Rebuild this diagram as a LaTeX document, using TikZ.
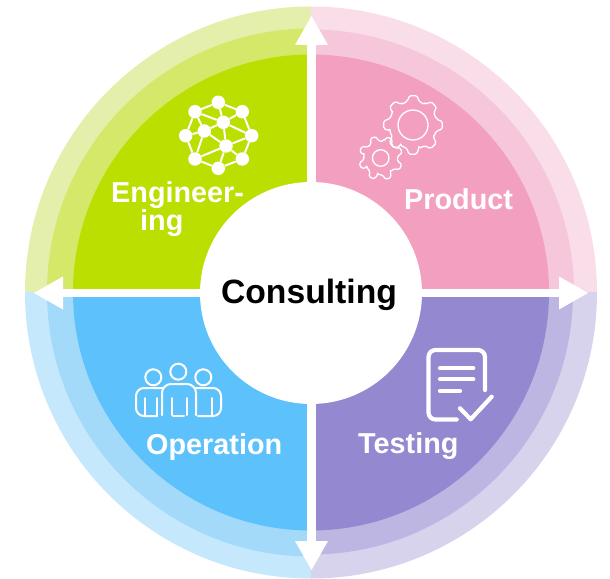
\documentclass[tikz,border=0pt]{standalone}
\usepackage{fontspec}
\setmainfont{Liberation Sans}
\usetikzlibrary{arrows.meta,calc}
\definecolor{gA}{HTML}{BADF00}\definecolor{gB}{HTML}{D5E86A}\definecolor{gC}{HTML}{E3EFAA}
\definecolor{pA}{HTML}{F3A0C0}\definecolor{pB}{HTML}{F6C6DA}\definecolor{pC}{HTML}{F9DDE9}
\definecolor{bA}{HTML}{5DC2FB}\definecolor{bB}{HTML}{A3DAFA}\definecolor{bC}{HTML}{C6E8FC}
\definecolor{vA}{HTML}{9488D0}\definecolor{vB}{HTML}{BEB6E2}\definecolor{vC}{HTML}{D8D3EC}
\tikzset{
  label text/.style={anchor=base west,inner sep=0pt,text=white,font=\fontsize{28.8bp}{28.8bp}\selectfont\bfseries},
  flow arrow/.style={draw=white,line width=8.5bp,-{Triangle[length=29bp,width=33bp,line width=0pt]}},
  icon line/.style={draw=white,line width=2bp,line cap=round,line join=round},
  gear line/.style={draw=white,line width=1.3bp,line cap=round,line join=round,rounded corners=1.5bp},
  net line/.style={draw=white,line width=2bp},
  net dot/.style={circle,fill=white,inner sep=0pt,minimum size=13.5bp},
}
\newcommand{\quadrant}[5]{%
  \begin{scope}
    \clip (c) rectangle #1;
    \fill[#2] (c) circle[radius=286];
    \fill[#3] (c) circle[radius=#5];
    \fill[#4] (c) circle[radius=238];
  \end{scope}}
\newcommand{\gearpath}[6]{%
  \draw[#6] ($(#1,#2)+(#5:#4)$) \foreach \t in {0,45,...,315} {
     -- ($(#1,#2)+(#5+\t+0:#4)$)
     -- ($(#1,#2)+(#5+\t+7:#3)$)
     -- ($(#1,#2)+(#5+\t+22:#3)$)
     -- ($(#1,#2)+(#5+\t+29:#4)$)
     -- ($(#1,#2)+(#5+\t+45:#4)$)
  } -- cycle;}
\begin{document}
\begin{tikzpicture}[x=1bp,y=-1bp]
\useasboundingbox (0,0) rectangle (610,579);
\fill[white] (0,0) rectangle (610,579);
\coordinate (c) at (311,292.5);
\quadrant{(0,0)}{gC}{gB}{gA}{264}
\quadrant{(610,0)}{pC}{pB}{pA}{263}
\quadrant{(0,579)}{bC}{bB}{bA}{264}
\quadrant{(610,579)}{vC}{vB}{vA}{262}
% arrows
\coordinate (mid) at (311.5,293);
\coordinate (tipN) at (311.5,16);
\coordinate (tipE) at (588,293);
\coordinate (tipS) at (311.5,570);
\coordinate (tipW) at (34,293);
\draw[flow arrow] (mid) -- (tipN);
\draw[flow arrow] (mid) -- (tipE);
\draw[flow arrow] (mid) -- (tipS);
\draw[flow arrow] (mid) -- (tipW);
% centre
\node[circle,fill=white,inner sep=0pt,minimum size=222bp] (hub) at (311,293) {};
\node[anchor=base,inner sep=0pt,font=\fontsize{33.7bp}{33.7bp}\selectfont\bfseries] (consulting) at (309,303) {Consulting};
% labels
\node[label text] (eng) at (111,202) {Engineer-};
\node[label text] (ing) at (140,230) {ing};
\node[label text] (product) at (404,209.5) {Product};
\node[label text] (operation) at (146,454) {Operation};
\node[label text] (testing) at (358,453.5) {Testing};
% network icon
\foreach \n/\x/\y in {a/218.3/102.3,b/195/111.7,d/242.3/111.7,e/223.3/122.3,f/204.3/131,g/185.7/135.7,h/251.7/135.7,i/226/146,j/195/159,k/242.3/159,l/218.3/168.3}
  \node[net dot] (\n) at (\x,\y) {};
\foreach \p/\q in {a/b,a/d,d/h,h/k,k/l,l/j,j/g,g/b,a/e,b/e,d/e,e/f,f/g,f/b,e/i,f/i,e/h,i/h,i/j,i/l,i/k,f/j}
  \draw[net line] (\p) -- (\q);
% gears
\gearpath{413}{125}{29.5}{24}{-14}{gear line}
\draw[gear line] (413,125) circle[radius=15];
\gearpath{380.7}{158}{22}{17}{10}{gear line}
\draw[gear line] (380.7,158) circle[radius=8.3];
% people icon
\begin{scope}[icon line]
\draw (153.3,377.3) circle[radius=8];
\draw (178.3,371.7) circle[radius=8];
\draw (203.3,377.3) circle[radius=8];
\draw[rounded corners=8bp] (157,416) -- (136,416) -- (136,388) -- (163,388);
\draw (145,398) -- (145,415);
\draw (157,416) -- (157,398);
\draw[rounded corners=9bp] (162,415) -- (162,384) -- (196,384) -- (196,415);
\draw (172,398) -- (172,415);
\draw (173,416) -- (184,416);
\draw (187,398) -- (187,415);
\draw[rounded corners=8bp] (198,416) -- (221,416) -- (221,388) -- (195,388);
\draw (212,398) -- (212,415);
\end{scope}
% document icon
\begin{scope}[draw=white,line width=4.2bp,line cap=round,line join=round]
\draw[rounded corners=7bp] (456.7,419.5) -- (428.5,419.5) -- (428.5,350) -- (485,350) -- (485,390);
\draw (440,368.3) -- (473.3,368.3);
\draw (440,379.3) -- (473.3,379.3);
\draw (440,391) -- (460,391);
\draw (460,408.3) -- (470.7,419.3) -- (491.7,396.7);
\end{scope}
\end{tikzpicture}
\end{document}
